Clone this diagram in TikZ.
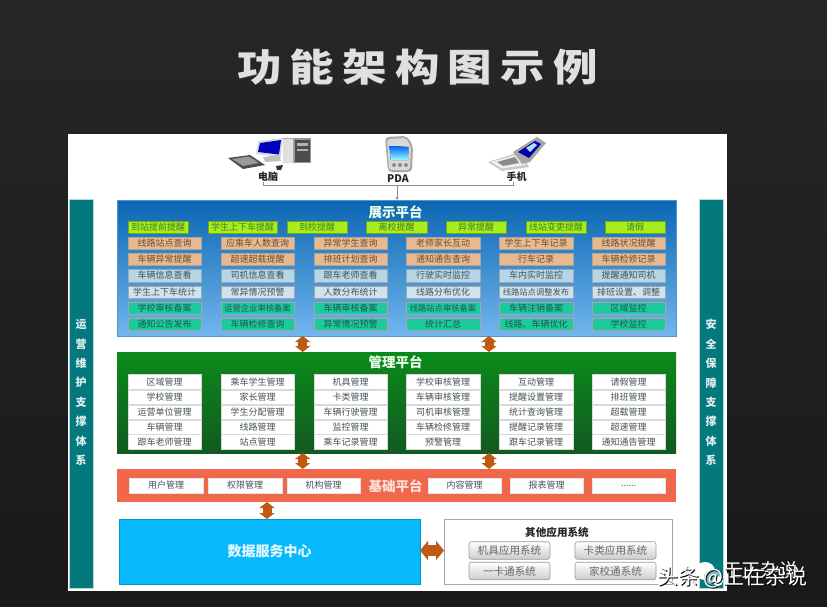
\documentclass[tikz,border=0pt]{standalone}
\usepackage{fontspec}
\setmainfont{Noto Sans CJK SC}
\usetikzlibrary{arrows.meta,calc}
\newcommand\sixdots{......}
\definecolor{cText}{HTML}{46525A}
\definecolor{cFat}{HTML}{BE5A12}
\definecolor{cTeal}{HTML}{04797D}
\definecolor{cBlueT}{HTML}{0A66B2}
\definecolor{cBlueB}{HTML}{72B6EE}
\definecolor{cGreenT}{HTML}{0C8A1A}
\definecolor{cGreenB}{HTML}{125A22}
\definecolor{cRed}{HTML}{F0674B}
\definecolor{cData}{HTML}{05B9FC}
\definecolor{cLime}{HTML}{A8EE1C}
\definecolor{cLimeT}{HTML}{437F24}
\definecolor{cTan}{HTML}{E9B98D}
\definecolor{cTanT}{HTML}{6B4E38}
\definecolor{cSky}{HTML}{B4D6E6}
\definecolor{cPale}{HTML}{CFE3EE}
\definecolor{cMint}{HTML}{1FC99E}
\definecolor{cMintT}{HTML}{175A4E}
\tikzset{
  x=1pt,y=-1pt,
  every node/.style={inner sep=0pt,outer sep=0pt,font=\fontsize{9}{10}\selectfont,text=cText},
  cell/.style={minimum width=73.5pt,minimum height=12.5pt,draw=black!35,line width=.5pt},
  limebox/.style={fill=cLime,draw=cLime!70!black,line width=.4pt,minimum height=12.5pt,text=cLimeT},
  tanbox/.style={cell,fill=cTan,text=cTanT},
  skybox/.style={cell,fill=cSky},
  paleb/.style={cell,fill=cPale},
  mint/.style={cell,fill=cMint,text=cMintT},
  whitebox/.style={minimum width=73.5pt,fill=white,draw=black!15,line width=.4pt},
  basebox/.style={minimum width=73.5pt,minimum height=15pt,fill=white,draw=black!10,line width=.3pt},
  panel/.style={minimum width=559pt,anchor=north west},
  paneltitle/.style={font=\fontsize{13.5}{15}\bfseries\selectfont,text=white!92!green},
  sidebar/.style={fill=cTeal,draw=white!70!cTeal,line width=.7pt,anchor=north west,minimum width=24pt,minimum height=389pt},
  sidetext/.style={font=\fontsize{11}{19.4}\bfseries\selectfont,text=white!88!cTeal,align=center},
  fat/.style={line width=9pt,cFat,{Triangle[length=6pt,width=15pt]}-{Triangle[length=6pt,width=15pt]}},
  fatwide/.style={line width=11pt,cFat,{Triangle[length=8pt,width=19pt]}-{Triangle[length=8pt,width=19pt]}},
  wire/.style={draw=black!45,line width=.7pt},
  devlabel/.style={font=\fontsize{10}{11}\bfseries\selectfont,text=black!85},
  appbtn/.style={rounded corners=2.5pt,minimum width=81pt,minimum height=17.5pt,top color=white,bottom color=black!20,draw=black!40,line width=.6pt,font=\fontsize{10.6}{12}\selectfont,text=black!60},
  wm/.style={font=\fontsize{#1}{#1}\selectfont},
}
\begin{document}
\begin{tikzpicture}
\useasboundingbox (0,0) rectangle (827,607);
% backdrop
\fill[top color=black!85,bottom color=black!90] (0,0) rectangle (827,607);
\fill[white] (68,134.5) rectangle (727,590.5);
% title
\node[font=\fontsize{38}{40}\bfseries\selectfont,text=black!80] (titleshadow) at (418.2,68.2) {\scalebox{1.17}[1]{功\kern7pt能\kern7pt架\kern7pt构\kern7pt图\kern7pt示\kern7pt例}};
\node[font=\fontsize{38}{40}\bfseries\selectfont,text=black!12] (title) at (417.5,67) {\scalebox{1.17}[1]{功\kern7pt能\kern7pt架\kern7pt构\kern7pt图\kern7pt示\kern7pt例}};
% side bars
\node[sidebar] (lbar) at (69.5,199) {};
\node[sidebar] (rbar) at (699.5,199) {};
\node[sidetext] (ltxt) at (81,392.5) {运\\营\\维\\护\\支\\撑\\体\\系};
\node[sidetext] (rtxt) at (711,392.5) {安\\全\\保\\障\\支\\撑\\体\\系};
% panels
\node[panel,minimum height=136pt,top color=cBlueT,bottom color=cBlueB,draw=cBlueT!70!white,line width=.4pt] (blue) at (117,200) {};
\node[panel,minimum height=101pt,top color=cGreenT,bottom color=cGreenB] (green) at (117,352) {};
\node[panel,minimum height=33pt,fill=cRed] (base) at (117,469) {};
\node[anchor=north west,minimum width=301pt,minimum height=65pt,fill=cData,draw=cData!80!black,line width=.4pt,font=\fontsize{14}{16}\bfseries\selectfont,text=white!90!cData] (data) at (119,519) {数据服务中心};
\node[anchor=north west,minimum width=228pt,minimum height=65pt,fill=white,draw=black!35,line width=.8pt] (other) at (444,519) {};
\node[paneltitle] (t1) at (395.5,212.5) {展示平台};
\node[paneltitle] (t2) at (395.5,362) {管理平台};
\node[paneltitle,text=white!80!cRed] (t3) at (395.5,486) {基础平台};
% top row
\foreach \cx/\bw/\lab [count=\cn] in {158/60/到站提前提醒,242.5/69/学生上下车提醒,317/60/到校提醒,396.5/61/离校提醒,476/60/异常提醒,556/60/线站变更提醒,635/60/请假}
  \node[limebox,minimum width=\bw pt] (lime\cn) at (\cx,227) {\lab};
% display rows
\foreach \cx/\lab [count=\cn] in {164.5/线路站点查询,257.5/应乘车人数查询,350.5/异常学生查询,443/老师家长互动,536/学生上下车记录,628.5/线路状况提醒}
  \node[tanbox] (ra\cn) at (\cx,243) {\lab};
\foreach \cx/\lab [count=\cn] in {164.5/车辆异常提醒,257.5/超速超载提醒,350.5/排班计划查询,443/通知通告查询,536/行车记录,628.5/车辆检修记录}
  \node[tanbox] (rb\cn) at (\cx,259) {\lab};
\foreach \cx/\lab [count=\cn] in {164.5/车辆信息查看,257.5/司机信息查看,350.5/跟车老师查看,443/行驶实时监控,536/车内实时监控,628.5/提醒通知司机}
  \node[skybox] (rc\cn) at (\cx,275.5) {\lab};
\foreach \cx/\lab [count=\cn] in {164.5/学生上下车统计,257.5/常异情况预警,350.5/人数分布统计,443/线路分布优化,536/{\fontsize{8.3}{10}\selectfont 线路站点调整发布},628.5/排班设置、调整}
  \node[paleb] (rd\cn) at (\cx,292) {\lab};
\foreach \cx/\lab [count=\cn] in {164.5/学校审核备案,257.5/{\fontsize{8.3}{10}\selectfont 运营企业审核备案},350.5/车辆审核备案,443/{\fontsize{8.3}{10}\selectfont 线路站点审核备案},536/车辆注销备案,628.5/区域监控}
  \node[mint] (re\cn) at (\cx,308) {\lab};
\foreach \cx/\lab [count=\cn] in {164.5/通知公告发布,257.5/车辆检修查询,350.5/异常情况预警,443/统计汇总,536/线路、车辆优化,628.5/学校监控}
  \node[mint] (rf\cn) at (\cx,324) {\lab};
% management rows
\foreach \cx/\lab [count=\cn] in {164.5/区域管理,257.5/乘车学生管理,350.5/机具管理,443/学校审核管理,536/互动管理,628.5/请假管理}
  \node[whitebox,minimum height=15pt] (ma\cn) at (\cx,382) {\lab};
\foreach \cx/\lab [count=\cn] in {164.5/学校管理,257.5/家长管理,350.5/卡类管理,443/车辆审核管理,536/提醒设置管理,628.5/排班管理}
  \node[whitebox,minimum height=14.6pt] (mb\cn) at (\cx,397) {\lab};
\foreach \cx/\lab [count=\cn] in {164.5/运营单位管理,257.5/学生分配管理,350.5/车辆行驶管理,443/司机审核管理,536/统计查询管理,628.5/超载管理}
  \node[whitebox,minimum height=14.6pt] (mc\cn) at (\cx,412) {\lab};
\foreach \cx/\lab [count=\cn] in {164.5/车辆管理,257.5/线路管理,350.5/监控管理,443/车辆检修管理,536/提醒记录管理,628.5/超速管理}
  \node[whitebox,minimum height=14.6pt] (md\cn) at (\cx,427) {\lab};
\foreach \cx/\lab [count=\cn] in {164.5/跟车老师管理,257.5/站点管理,350.5/乘车记录管理,443/预警管理,536/跟车记录管理,628.5/通知通告管理}
  \node[whitebox,minimum height=15pt] (me\cn) at (\cx,441.7) {\lab};
% base row
\foreach \cx/\lab [count=\cn] in {166/用户管理,245/权限管理,323.5/机构管理,464.5/内容管理,546.5/报表管理,628.5/\sixdots}
  \node[basebox] (bb\cn) at (\cx,485.5) {\lab};
% other systems
\node[font=\fontsize{10.6}{12}\bfseries\selectfont,text=black!85] (ot) at (557,532.5) {其他应用系统};
\node[appbtn] (ap1) at (509.5,550.5) {机具应用系统};
\node[appbtn] (ap2) at (615.5,550.5) {卡类应用系统};
\node[appbtn] (ap3) at (509.5,571) {一卡通系统};
\node[appbtn] (ap4) at (615.5,571) {家校通系统};
% fat arrows
\coordinate (ax1) at (302.7,0);
\coordinate (ax2) at (489,0);
\coordinate (ax3) at (267,0);
\coordinate (ay4) at (0,550.5);
\draw[fat] (blue.south -| ax1) -- (green.north -| ax1);
\draw[fat] (blue.south -| ax2) -- (green.north -| ax2);
\draw[fat] (green.south -| ax1) -- (base.north -| ax1);
\draw[fat] (green.south -| ax2) -- (base.north -| ax2);
\draw[fat] (base.south -| ax3) -- (data.north -| ax3);
\draw[fatwide] (data.east |- ay4) -- (other.west |- ay4);
% device labels and wires
\node[devlabel] (pc) at (268,176.5) {电脑};
\node[devlabel,font=\fontsize{10.5}{11}\bfseries\selectfont] (pda) at (398,179) {PDA};
\node[devlabel] (phone) at (516.5,176.5) {手机};
\coordinate (junction) at (397,185);
\coordinate (pcdrop) at (263.5,182);
\coordinate (phdrop) at (513,182);
\draw[wire] (pcdrop) |- (junction);
\draw[wire] (phdrop) |- (junction);
\draw[wire,-{Stealth[length=3pt,width=3pt]}] (junction) -- (junction |- blue.north);
% computer
\fill[black!40] (283,138) -- (311,138) -- (311,163) -- (283,163) -- cycle;
\fill[black!12] (283,139) -- (293,138.5) -- (293,163) -- (283,163) -- cycle;
\fill[black!70] (295,140) rectangle (310,162);
\fill[black!30] (297,143) rectangle (308,146);
\fill[black!30] (297,149) rectangle (308,151);
\fill[black!15] (256,154) -- (258,141) -- (283,138) -- (281,157) -- cycle;
\fill[blue!75!black] (258,152) -- (260,143) -- (281,140) -- (279,154.5) -- cycle;
\fill[black!25] (263,157) -- (279,155) -- (281,161) -- (265,162) -- cycle;
\fill[black!70] (228,158) -- (250,155) -- (265,165) -- (243,169) -- cycle;
\fill[black!40] (232,159) -- (249,156.5) -- (259,163) -- (243,166) -- cycle;
\fill[black!80] (276,166) -- (283,165) -- (281,170) -- (277,170) -- cycle;
% PDA
\fill[black!35,rounded corners=4pt] (385,137) -- (407,136) -- (413,146) -- (412,172) -- (388,172) -- cycle;
\fill[white!85!black,rounded corners=3pt] (387,139) -- (406,138) -- (411,147) -- (410,170) -- (389,170) -- cycle;
\fill[top color=blue!60!cyan,bottom color=cyan!40!white] (389.5,146) -- (408.5,147) -- (408,160) -- (390.5,160) -- cycle;
\fill[black!45] (394,165) circle (2pt) (400,165) circle (2pt) (406,165) circle (2pt);
% phone
\fill[black!22] (488,162) -- (520,152) -- (529,167) -- (502,171) -- cycle;
\fill[black!6] (491,162) -- (519,154) -- (526,165) -- (502,168.5) -- cycle;
\fill[black!45] (497,162) -- (515,157) -- (519,163) -- (503,166) -- cycle;
\fill[black!35] (513,152) -- (537,137) -- (546,143) -- (530,162) -- (522,164) -- cycle;
\fill[blue!65!black] (518,152) -- (535,141) -- (541,144) -- (529,158) -- cycle;
\fill[cyan!35!white] (526,148) -- (534,143) -- (537,145) -- (530,152) -- cycle;
% watermark
\fill[white] (705,571) ellipse (10pt and 9pt);
\fill[cTeal!50!white] (713,577) ellipse (9pt and 7.5pt);
\fill[white] (718,581) circle (5pt);
\node[wm=19,text=white] (wm1) at (760,570) {正正杂说};
\node[wm=21,text=black] (wm2s) at (733.5,578.7) {头条 @正在杂说};
\node[wm=21,text=white] (wm2) at (732.5,577.7) {头条 @正在杂说};
\end{tikzpicture}
\end{document}
